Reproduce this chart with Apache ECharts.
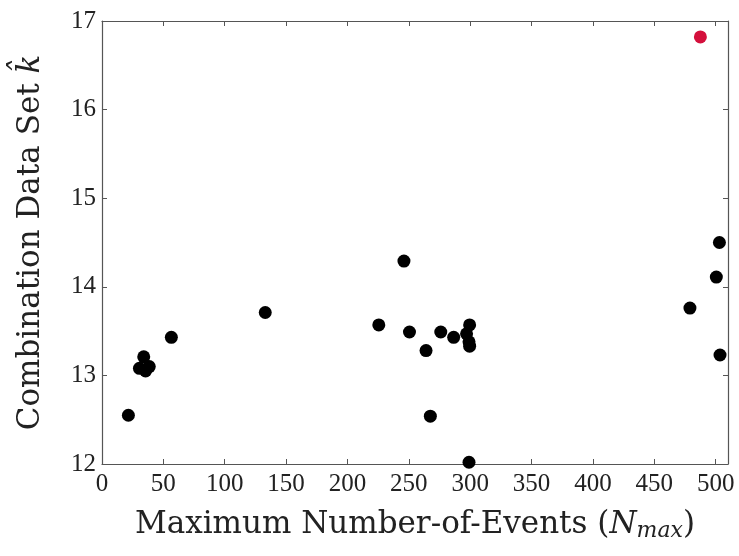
<!DOCTYPE html>
<html>
<head>
<meta charset="utf-8">
<script src="https://cdn.jsdelivr.net/npm/echarts@6/dist/echarts.min.js"></script>
<style>html,body{margin:0;padding:0;background:#fff}#c{width:739px;height:556px}</style>
</head>
<body>
<div id="c"></div>
<script>
// Data
const nMax = [21.5, 30.5, 34, 35.5, 38.5, 56.5, 133, 225.5, 246, 250.5, 264, 267.5, 276, 286.5, 297, 299.5, 299, 299.5, 299, 479, 500.5, 503, 503.5];
const kHat = [12.55, 13.08, 13.21, 13.05, 13.1, 13.43, 13.71, 13.57, 14.29, 13.49, 13.28, 12.54, 13.49, 13.43, 13.47, 13.57, 13.38, 13.33, 12.02, 13.76, 14.11, 14.5, 13.23];
const highlightX = [487.5];
const highlightY = [16.82];
const xTicks = [0, 50, 100, 150, 200, 250, 300, 350, 400, 450, 500];
const yTicks = [12, 13, 14, 15, 16, 17];

const black = nMax.map((x, i) => [x, kHat[i]]);
const red = highlightX.map((x, i) => [x, highlightY[i]]);

const font = "'Liberation Serif', 'DejaVu Serif', serif";
const tfont = "'DejaVu Serif', 'Liberation Serif', serif";
const axisCol = '#555';
const chart = echarts.init(document.getElementById('c'), null, {renderer: 'canvas'});
const xBase = {
  type: 'value', min: 0, max: 510, interval: 50,
  axisLine: {show: true, onZero: false, lineStyle: {color: axisCol, width: 1.2}},
  axisTick: {show: true, inside: true, length: 5, lineStyle: {color: axisCol}},
  splitLine: {show: false}
};
const yBase = {
  type: 'value', min: yTicks[0], max: yTicks[yTicks.length - 1], interval: 1,
  axisLine: {show: true, onZero: false, lineStyle: {color: axisCol, width: 1.2}},
  axisTick: {show: true, inside: true, length: 5, lineStyle: {color: axisCol}},
  splitLine: {show: false}
};
chart.setOption({
  backgroundColor: '#fff',
  animation: false,
  grid: {left: 102, right: 11, top: 21, bottom: 92},
  xAxis: [
    Object.assign({}, xBase, {
      position: 'bottom',
      name: '{t|Maximum Number-of-Events (}{i|N}{s|max}{t|)}',
      nameLocation: 'middle', nameGap: 43,
      nameTextStyle: {rich: {
        t: {fontFamily: tfont, fontSize: 31, color: '#222'},
        i: {fontFamily: tfont, fontSize: 31, fontStyle: 'italic', color: '#222'},
        s: {fontFamily: tfont, fontSize: 22, fontStyle: 'italic', color: '#222', padding: [13, 0, 0, 0]}
      }},
      axisLabel: {
        margin: 8, fontFamily: font, fontSize: 25, color: '#222',
        showMaxLabel: false,
        formatter: v => xTicks.indexOf(v) >= 0 ? String(v) : ''
      }
    }),
    Object.assign({}, xBase, {position: 'top', axisLabel: {show: false}})
  ],
  yAxis: [
    Object.assign({}, yBase, {
      position: 'left',
      name: '{t|Combination Data Set }{i|k\u0302}',
      nameLocation: 'middle', nameGap: 56, nameRotate: 90,
      nameTextStyle: {rich: {
        t: {fontFamily: tfont, fontSize: 31, color: '#222'},
        i: {fontFamily: tfont, fontSize: 31, fontStyle: 'italic', color: '#222'}
      }},
      axisLabel: {
        margin: 6, fontFamily: font, fontSize: 25, color: '#222',
        formatter: v => yTicks.indexOf(v) >= 0 ? String(v) : ''
      }
    }),
    Object.assign({}, yBase, {position: 'right', axisLabel: {show: false}})
  ],
  series: [
    {type: 'scatter', data: black, symbolSize: 13, itemStyle: {color: '#000', opacity: 1}, xAxisIndex: 0, yAxisIndex: 0},
    {type: 'scatter', data: red, symbolSize: 13, itemStyle: {color: '#d4103c', opacity: 1}, xAxisIndex: 0, yAxisIndex: 0}
  ]
});
</script>
</body>
</html>
